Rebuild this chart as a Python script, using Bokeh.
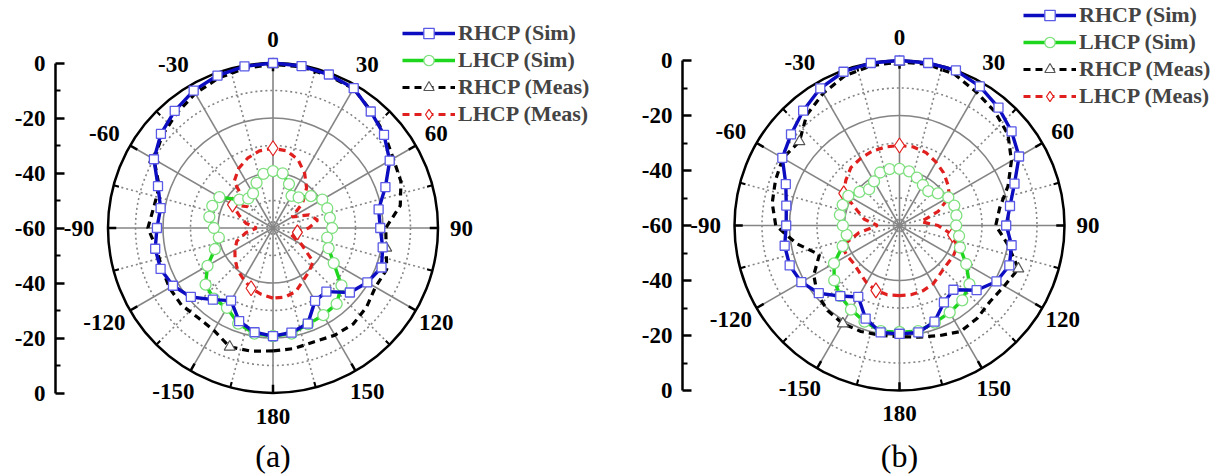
import numpy as np
from bokeh.plotting import figure
from bokeh.layouts import row
from bokeh.models import FixedTicker, Range1d, Legend, LegendItem
from bokeh.core.properties import value
from bokeh.embed import file_html
from bokeh.resources import INLINE

# ---------------- data ----------------
angles = list(range(-180, 181, 10))

rhcp_sim_a = [-20.7, -21.5, -24, -29.5, -26, -21, -18, -16.5, -16.5, -17.8, -18.5, -15.5, -10, -6.8,
              -4.4, -2.3, -1, -0.3, 0, -0.2, -0.6, -1.3, -4.7, -7.3, -11, -16.5, -21, -21, -19.5,
              -18, -20.4, -23.5, -29.8, -29.4, -23, -21.4, -20.7]
lhcp_sim_a = [-20.7, -21, -23, -26.5, -26.5, -28, -32.5, -37.5, -40, -38.5, -36.5, -36.5, -37.5, -44,
              -46, -45.5, -42.5, -40, -39.3, -39.8, -43, -46.5, -45.5, -42, -39.3, -39, -39, -38.5,
              -40, -38.5, -34.5, -27.5, -24, -23.4, -22.8, -21, -20.7]
rhcp_meas_a = [-15.3, -14.5, -14, -17, -17.5, -16.5, -16.5, -17, -17, -14.5, -16, -16, -10, -7.5,
               -5.5, -3.5, -2, -1, -0.5, -0.5, -1, -1.5, -4.5, -7, -9.5, -10.5, -13, -19, -18.2,
               -16, -17, -15.5, -14.5, -15, -16, -15.5, -15.3]
lhcp_meas_a = [-34.5, -35.5, -36.7, -38.5, -40, -42, -44, -46, -50, -54, -50, -47, -43, -48,
               -38, -35, -33, -31.5, -31, -31.5, -33.5, -37, -41, -46, -52, -46, -43.5, -47, -51,
               -53, -48, -41, -39.5, -38, -35.5, -34.5, -34.5]

rhcp_sim_b = [-20.6, -20.5, -24, -30, -26.5, -21.7, -18.8, -17.5, -17.6, -18.8, -18.2, -16, -10.8,
              -8.5, -5.5, -2.4, -0.5, 0, 0, 0, 0, -1.6, -4, -6.8, -9.8, -15.5, -19.2, -21.2, -18.6,
              -17.5, -19.3, -23.4, -29.5, -27.7, -22.8, -20.5, -20.6]
lhcp_sim_b = [-21.2, -21, -22.8, -24.7, -26.5, -29, -32.5, -38, -40.5, -39.4, -38, -38, -38.5, -41,
              -42.8, -41.5, -39.5, -39.2, -39.4, -40, -41.5, -43, -43.7, -41.8, -39.5, -38.8, -39,
              -39.4, -38, -36.6, -32, -26.8, -24.5, -23.5, -22.4, -21, -21.2]
rhcp_meas_b = [-19.5, -19.5, -19, -18.8, -19.5, -21, -24, -29, -22, -15, -13, -12, -11, -12.5,
               -7.5, -4.5, -2, -1, -0.5, -0.5, -1.5, -4, -6, -8.5, -13, -18, -23, -25, -20, -14,
               -16, -17, -16, -15.5, -17.4, -18.8, -19.5]
lhcp_meas_b = [-34.5, -34.4, -34.9, -36, -37.5, -38.4, -38, -37.7, -45, -52, -47, -43.5, -36.6,
               -34.5, -32.5, -31.8, -31.2, -31, -30.9, -31, -31.8, -33.4, -35, -37, -39, -45, -52,
               -46, -40.4, -37.7, -37.5, -37.7, -37, -35.5, -34.8, -34.5, -34.5]

meas_marker_angles_a = [0, 100, -160, -60]
rhcp_meas_marker_angles_b = [0, 110, -150, -50]
lhcp_meas_marker_angles_b = [0, 100, -160, -60]

angle_ticks = [0, 30, 60, 90, 120, 150, 180, -150, -120, -90, -60, -30]
radial_ticks = [60, 40, 20, 0, -20, -40, -60]
radial_tick_labels = ["0", "-20", "-40", "-60", "-40", "-20", "0"]
series_names = ["RHCP (Sim)", "LHCP (Sim)", "RHCP (Meas)", "LHCP (Meas)"]
panel_labels = ["(a)", "(b)"]

# ---------------- helpers ----------------
S = 2.75          # px per dB unit
RMAX = 60.0
H = 476
FONT = value("Liberation Serif")


def to_xy(ang, db):
    a = np.radians(np.asarray(ang, dtype=float))
    r = np.clip(np.asarray(db, dtype=float) + RMAX, 0, None)
    return r * np.sin(a), r * np.cos(a)


def pick(ang_list, db_list, chosen):
    d = dict(zip(ang_list, db_list))
    return list(chosen), [d[a] for a in chosen]


def make_panel(width, border_left, cx_rel, cy_page, rs, ls, rm, lm,
               rm_marks, lm_marks, legend_xy, label):
    # cx_rel: distance (px) from the axis line to the polar centre
    x0 = -cx_rel / S
    x1 = x0 + (width - border_left) / S
    y1 = cy_page / S
    y0 = -(H - cy_page) / S
    p = figure(width=width, height=H, output_backend="svg", toolbar_location=None,
               x_range=Range1d(x0, x1), y_range=Range1d(y0, y1),
               x_axis_location=None, y_axis_location="left",
               min_border_left=border_left, min_border_right=0,
               min_border_top=0, min_border_bottom=0)
    p.outline_line_color = None
    p.xgrid.visible = False
    p.ygrid.visible = False

    ax = p.yaxis[0]
    ax.ticker = FixedTicker(ticks=radial_ticks, minor_ticks=[-50, -30, -10, 10, 30, 50])
    ax.major_label_overrides = {t: l for t, l in zip(radial_ticks, radial_tick_labels)}
    ax.bounds = (-60, 60)
    ax.axis_line_width = 2.5
    ax.axis_line_color = "black"
    ax.major_tick_in = 9
    ax.major_tick_out = 0
    ax.minor_tick_in = 5
    ax.minor_tick_out = 0
    ax.major_tick_line_width = 2.5
    ax.minor_tick_line_width = 2
    ax.major_tick_line_color = "black"
    ax.minor_tick_line_color = "black"
    ax.major_label_standoff = 10
    ax.major_label_text_font = "Liberation Serif"
    ax.major_label_text_font_style = "bold"
    ax.major_label_text_font_size = "23px"
    ax.major_label_text_color = "black"

    # polar grid circles
    grey = "#858585"
    p.circle(x=[0, 0, 0], y=[0, 0, 0], radius=[10, 30, 50], fill_color=None,
             line_color=grey, line_width=1.6, line_dash="2 3")
    p.circle(x=[0, 0], y=[0, 0], radius=[20, 40], fill_color=None,
             line_color=grey, line_width=1.6)
    # radial lines
    maj = np.radians(np.arange(0, 360, 30))
    mnr = np.radians(np.arange(15, 360, 30))
    p.segment(x0=0, y0=0, x1=RMAX * np.sin(maj), y1=RMAX * np.cos(maj),
              line_color=grey, line_width=1.6)
    p.segment(x0=0, y0=0, x1=RMAX * np.sin(mnr), y1=RMAX * np.cos(mnr),
              line_color=grey, line_width=1.6, line_dash="2 3")
    # outer circle and ticks
    p.circle(x=[0], y=[0], radius=[RMAX], fill_color=None, line_color="black", line_width=2.5)
    p.segment(x0=RMAX * np.sin(maj), y0=RMAX * np.cos(maj),
              x1=(RMAX - 3) * np.sin(maj), y1=(RMAX - 3) * np.cos(maj),
              line_color="black", line_width=2.5)
    p.segment(x0=RMAX * np.sin(mnr), y0=RMAX * np.cos(mnr),
              x1=(RMAX - 2) * np.sin(mnr), y1=(RMAX - 2) * np.cos(mnr),
              line_color="black", line_width=2)

    # angle labels
    ta = np.radians(angle_ticks)
    rl = 68.5
    lx = rl * np.sin(ta) - np.where(np.array(angle_ticks) < 0, 2.0, 0.0)
    ly = rl * np.cos(ta)
    p.text(x=lx, y=ly, text=[str(a) for a in angle_ticks], text_font=FONT,
           text_font_style="bold", text_font_size="23px", text_align="center",
           text_baseline="middle", text_color="black")

    # series
    blue, green, red = "#0c0cc0", "#1fd61f", "#e0201e"
    x, y = to_xy(angles, rm)
    r_rm_line = p.line(x, y, line_color="black", line_width=3.2, line_dash="7 5")
    mx, my = to_xy(*pick(angles, rm, rm_marks))
    r_rm_mk = p.scatter(mx, my, marker="triangle", size=11, fill_color="white",
                        line_color="#555555", line_width=1.2)
    x, y = to_xy(angles, lm)
    r_lm_line = p.line(x, y, line_color=red, line_width=3.2, line_dash="7 5")
    mx, my = to_xy(*pick(angles, lm, lm_marks))
    r_lm_mk = p.scatter(mx, my, marker="diamond", size=15, fill_color="white",
                        line_color=red, line_width=1.2)
    x, y = to_xy(angles, ls)
    r_ls_line = p.line(x, y, line_color=green, line_width=3.4)
    r_ls_mk = p.scatter(x, y, marker="circle", size=11, fill_color="white",
                        line_color="#7fe07f", line_width=1.3)
    x, y = to_xy(angles, rs)
    r_rs_line = p.line(x, y, line_color=blue, line_width=3.4)
    r_rs_mk = p.scatter(x, y, marker="square", size=9, fill_color="white",
                        line_color="#5a5ae6", line_width=1.3)

    legend = Legend(items=[
        LegendItem(label=value(series_names[0]), renderers=[r_rs_line, r_rs_mk]),
        LegendItem(label=value(series_names[1]), renderers=[r_ls_line, r_ls_mk]),
        LegendItem(label=value(series_names[2]), renderers=[r_rm_line, r_rm_mk]),
        LegendItem(label=value(series_names[3]), renderers=[r_lm_line, r_lm_mk]),
    ], location=legend_xy)
    legend.label_text_font = "Liberation Serif"
    legend.label_text_font_style = "bold"
    legend.label_text_font_size = "22px"
    legend.glyph_width = 53
    legend.glyph_height = 26
    legend.label_height = 20
    legend.label_standoff = 3
    legend.spacing = 1
    legend.padding = 0
    legend.margin = 0
    legend.border_line_alpha = 0
    legend.background_fill_alpha = 0
    p.add_layout(legend)

    # panel label
    p.text(x=[0], y=[-(455 - cy_page) / S], text=[label], text_font=FONT,
           text_font_size="32px", text_align="center", text_baseline="middle",
           text_color="black")
    return p


pa = make_panel(608, 55, 217.5, 227.5, rhcp_sim_a, lhcp_sim_a, rhcp_meas_a, lhcp_meas_a,
                meas_marker_angles_a, meas_marker_angles_a, (347, 349), panel_labels[0])
pb = make_panel(611, 74, 217, 225, rhcp_sim_b, lhcp_sim_b, rhcp_meas_b, lhcp_meas_b,
                rhcp_meas_marker_angles_b, lhcp_meas_marker_angles_b, (341, 367), panel_labels[1])

layout = row(pa, pb, spacing=0)
open("out.html", "w").write(file_html(layout, INLINE))
